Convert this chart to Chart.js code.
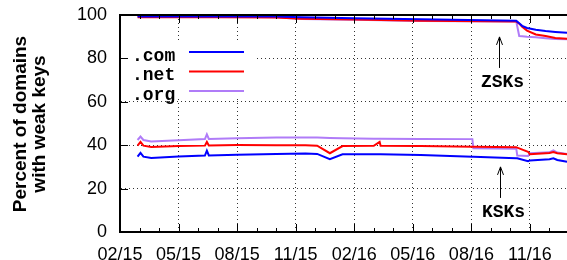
<!DOCTYPE html>
<html>
<head>
<meta charset="utf-8">
<script src="https://cdn.jsdelivr.net/npm/chart.js@4"></script>
<style>
  html, body { margin: 0; padding: 0; background: #fff; overflow: hidden; }
  .chart { position: relative; width: 572px; height: 260px; }
</style>
</head>
<body>
<div class="chart"><canvas id="weakKeys"></canvas></div>
<script>
// x values are months counted from 02/15 (0 = Feb 2015)
const tickLabels = ['02/15', '05/15', '08/15', '11/15', '02/16', '05/16', '08/16', '11/16']

const zskMonths = [0.9, 5, 8, 9.3, 12, 15.4, 20.3, 20.45, 20.6, 20.85, 21.3, 21.8, 22.3, 22.9]
const comZsk = [99.3, 99.3, 99.3, 99.0, 98.5, 98.0, 97.3, 96.2, 95.0, 94.0, 93.2, 92.6, 92.2, 91.8]
const netZsk = [99.0, 99.0, 98.8, 98.3, 97.9, 97.4, 97.0, 96.0, 94.6, 92.8, 91.0, 90.3, 89.4, 89.0]
const orgZsk = [99.5, 99.3, 99.0, 98.2, 97.8, 97.2, 97.0, 90.3, 90.2, 90.0, 89.8, 89.3, 88.9, 88.8]

const kskMonths = [0.9, 1.05, 1.2, 1.6, 3, 4.35, 4.45, 4.55, 6, 8, 9.5, 10.1, 10.75, 11.4, 13, 13.3, 13.35, 15.4, 18.05, 18.1, 20.3, 20.35, 20.9, 21.0, 22, 22.2, 22.4, 22.9]
const comKsk = [34.7, 36.5, 34.7, 34.1, 34.8, 35.2, 37.5, 35.3, 35.6, 36.0, 36.2, 36.0, 33.6, 35.8, 35.8, 35.8, 35.8, 35.5, 34.7, 34.7, 34.0, 34.0, 32.6, 33.0, 33.5, 34.0, 33.2, 32.4]
const netKsk = [39.8, 41.5, 39.8, 39.2, 39.6, 39.8, 41.5, 39.9, 40.1, 40.0, 40.0, 39.8, 36.3, 39.6, 39.7, 41.5, 39.7, 39.6, 39.3, 39.3, 39.0, 38.9, 37.0, 35.8, 36.4, 36.8, 36.3, 35.8]
const orgKsk = [42.4, 44.0, 42.4, 41.7, 42.3, 42.8, 45.0, 42.9, 43.2, 43.6, 43.6, 43.5, 43.3, 43.2, 43.0, 43.0, 43.0, 42.9, 42.8, 38.6, 38.4, 35.2, 35.0, 36.3, 36.7, 37.6, 36.6, 36.0]

const colors = { com: '#0000ff', net: '#ff0000', org: '#b07cf8' }

const toPoints = (xs, ys) => xs.map((x, i) => ({ x, y: ys[i] }))

const lineSet = (label, xs, ys, color) => ({
  label,
  data: toPoints(xs, ys),
  borderColor: color,
  backgroundColor: color,
  borderWidth: 2,
  pointRadius: 0,
  fill: false,
  tension: 0
})

const datasets = [
  lineSet('.com', zskMonths, comZsk, colors.com),
  lineSet('.net', zskMonths, netZsk, colors.net),
  lineSet('.org', zskMonths, orgZsk, colors.org),
  lineSet('.com', kskMonths, comKsk, colors.com),
  lineSet('.net', kskMonths, netKsk, colors.net),
  lineSet('.org', kskMonths, orgKsk, colors.org)
]

const mono = 'bold 18px "Liberation Mono", "DejaVu Sans Mono", monospace'
const sans = '"Liberation Sans", Arial, sans-serif'

// gnuplot style frame: top border and inward ticks
const framePlugin = {
  id: 'frame',
  afterDatasetsDraw(chart) {
    const { ctx, chartArea: a, scales } = chart
    ctx.save()
    ctx.strokeStyle = '#000'
    ctx.lineWidth = 2
    ctx.beginPath()
    ctx.moveTo(a.left - 1, a.top)
    ctx.lineTo(a.right, a.top)
    ctx.stroke()
    ctx.lineWidth = 1
    for (let m = 0; m <= 23; m++) {
      const x = Math.round(scales.x.getPixelForValue(m)) + 0.5
      const len = m % 3 === 0 ? 8 : 4
      ctx.beginPath()
      ctx.moveTo(x, a.bottom)
      ctx.lineTo(x, a.bottom - len)
      ctx.moveTo(x, a.top)
      ctx.lineTo(x, a.top + len)
      ctx.stroke()
    }
    for (let v = 20; v < 100; v += 20) {
      const y = Math.round(scales.y.getPixelForValue(v)) + 0.5
      ctx.beginPath()
      ctx.moveTo(a.left, y)
      ctx.lineTo(a.left + 8, y)
      ctx.stroke()
    }
    ctx.restore()
  }
}

const keyPlugin = {
  id: 'key',
  afterDatasetsDraw(chart) {
    const { ctx, scales } = chart
    ctx.save()
    ctx.fillStyle = '#fff'
    ctx.fillRect(128, 43, 127, 56)
    ctx.font = mono
    ctx.textBaseline = 'alphabetic'
    ctx.textAlign = 'left'
    const rows = [['.com', colors.com], ['.net', colors.net], ['.org', colors.org]]
    rows.forEach(([label, color], i) => {
      const y = 52 + i * 19.5
      ctx.fillStyle = '#000'
      ctx.fillText(label, 132, y + 8.5)
      ctx.strokeStyle = color
      ctx.lineWidth = 2
      ctx.beginPath()
      ctx.moveTo(189, y)
      ctx.lineTo(244, y)
      ctx.stroke()
    })

    // arrows with labels
    const arrow = (m, from, to, text, textValue) => {
      const x = Math.round(scales.x.getPixelForValue(m)) + 0.5
      const y1 = scales.y.getPixelForValue(from)
      const y2 = scales.y.getPixelForValue(to)
      ctx.strokeStyle = '#000'
      ctx.lineWidth = 1
      ctx.beginPath()
      ctx.moveTo(x, y1)
      ctx.lineTo(x, y2)
      ctx.moveTo(x - 3, y2 + 8)
      ctx.lineTo(x, y2)
      ctx.lineTo(x + 3, y2 + 8)
      ctx.stroke()
      ctx.fillStyle = '#000'
      ctx.textAlign = 'center'
      ctx.fillText(text, x + 3, scales.y.getPixelForValue(textValue))
    }
    arrow(19.43, 75.6, 89.9, 'ZSKs', 66.8)
    arrow(19.45, 15.7, 30, 'KSKs', 6.9)

    // y axis title, two lines
    ctx.font = 'bold 19px ' + sans
    ctx.textAlign = 'center'
    ctx.textBaseline = 'middle'
    ctx.translate(0, 124)
    ctx.rotate(-Math.PI / 2)
    ctx.fillText('Percent of domains', 0, 21)
    ctx.fillText('with weak keys', 0, 40)
    ctx.restore()
  }
}

const dotted = '#333'

new Chart(document.getElementById('weakKeys'), {
  type: 'line',
  data: { datasets },
  options: {
    responsive: true,
    maintainAspectRatio: false,
    animation: false,
    events: [],
    layout: { padding: { top: 15, right: 3, left: 0, bottom: 0 } },
    plugins: { legend: { display: false }, tooltip: { enabled: false } },
    scales: {
      x: {
        type: 'linear',
        min: 0,
        max: 23,
        afterFit: scale => {
          scale.height = 28
          scale.paddingLeft = 0
          scale.paddingRight = 0
        },
        grid: {
          drawTicks: false,
          color: ctx => (ctx.tick && ctx.tick.value % 3 === 0 && ctx.tick.value !== 0 ? dotted : 'rgba(0,0,0,0)'),
          lineWidth: 1
        },
        border: { display: true, color: '#000', width: 2, dash: [1, 3] },
        ticks: {
          stepSize: 1,
          autoSkip: false,
          maxRotation: 0,
          padding: 12,
          color: '#000',
          font: { family: sans, size: 18 },
          callback: v => (v % 3 === 0 ? tickLabels[v / 3] || '' : '')
        }
      },
      y: {
        min: 0,
        max: 100,
        afterFit: scale => {
          scale.width = 120
          scale.paddingTop = 0
          scale.paddingBottom = 0
        },
        grid: {
          drawTicks: false,
          color: ctx => (ctx.tick && ctx.tick.value > 0 && ctx.tick.value < 100 ? dotted : 'rgba(0,0,0,0)'),
          lineWidth: 1
        },
        border: { display: true, color: '#000', width: 2, dash: [1, 3] },
        ticks: {
          stepSize: 20,
          padding: 13,
          color: '#000',
          font: { family: sans, size: 18 }
        }
      }
    }
  },
  plugins: [framePlugin, keyPlugin]
})
</script>
</body>
</html>
